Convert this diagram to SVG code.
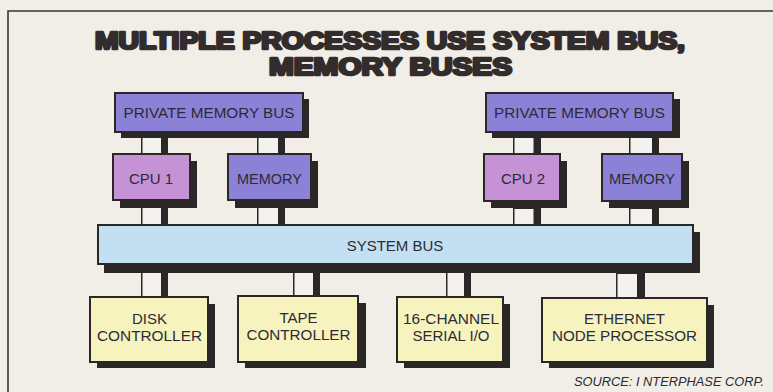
<svg xmlns="http://www.w3.org/2000/svg" width="773" height="392" viewBox="0 0 773 392">
<style>
.title{font-family:"Liberation Sans",Arial,sans-serif;font-weight:bold;font-size:23px;fill:#332c2d;stroke:#332c2d;stroke-width:2.6;stroke-linejoin:round}
.lbl{font-family:"Liberation Sans",Arial,sans-serif;font-size:15px;fill:#2c2a36;text-anchor:middle}
.src{font-family:"Liberation Sans",Arial,sans-serif;font-size:13px;font-style:italic;fill:#2c2a2a}
.shadow{fill:#2c2727}
.box{stroke:#2c2727;stroke-width:2}
.purple{fill:#8b82d8}
.pink{fill:#c692d6}
.blue{fill:#c2e0f1}
.yellow{fill:#f7f3bf}
.cdark{fill:#2c2727}
.cwhite{fill:#f4f2ee}
</style>
<rect x="0" y="0" width="773" height="392" fill="#f1eee8"/>
<path d="M8 392 V11 H773" fill="none" stroke="#3a3535" stroke-width="1.6"/>
<g id="title">
<text class="title" x="95" y="48.5" textLength="590" lengthAdjust="spacingAndGlyphs">MULTIPLE PROCESSES USE SYSTEM BUS,</text>
<text class="title" x="269" y="74.5" textLength="243" lengthAdjust="spacingAndGlyphs">MEMORY BUSES</text>
</g>
<g id="connectors">
<rect class="cdark" x="141" y="130" width="27" height="26"/><rect class="cwhite" x="142.5" y="138" width="18.5" height="16"/>
<rect class="cdark" x="257" y="130" width="28" height="26"/><rect class="cwhite" x="258.5" y="138" width="19.5" height="16"/>
<rect class="cdark" x="513" y="130" width="28" height="26"/><rect class="cwhite" x="514.5" y="138" width="19" height="16"/>
<rect class="cdark" x="629" y="130" width="30" height="26"/><rect class="cwhite" x="630.5" y="138" width="21.5" height="16"/>
<rect class="cdark" x="141" y="198" width="27" height="29"/><rect class="cwhite" x="142.5" y="208" width="18.5" height="17"/>
<rect class="cdark" x="257" y="198" width="28" height="29"/><rect class="cwhite" x="258.5" y="208" width="19.5" height="17"/>
<rect class="cdark" x="513" y="198" width="28" height="29"/><rect class="cwhite" x="514.5" y="209" width="19" height="16"/>
<rect class="cdark" x="629" y="198" width="30" height="29"/><rect class="cwhite" x="630.5" y="209" width="21.5" height="16"/>
<rect class="cdark" x="141" y="262" width="27" height="37"/><rect class="cwhite" x="142.5" y="273" width="18.5" height="23"/>
<rect class="cdark" x="293" y="262" width="27" height="36"/><rect class="cwhite" x="294.5" y="272" width="18.5" height="23"/>
<rect class="cdark" x="446" y="262" width="25" height="37"/><rect class="cwhite" x="447.5" y="272" width="16.5" height="24"/>
<rect class="cdark" x="616" y="262" width="29" height="38"/><rect class="cwhite" x="617.5" y="274" width="19.5" height="23"/>
</g>
<g id="pmb1"><rect class="shadow" x="121" y="99" width="188" height="39"/><rect class="box purple" x="115" y="93" width="188" height="39"/><text class="lbl" x="209" y="118" textLength="171" lengthAdjust="spacingAndGlyphs">PRIVATE MEMORY BUS</text></g>
<g id="pmb2"><rect class="shadow" x="492" y="99" width="188" height="39"/><rect class="box purple" x="486" y="93" width="187" height="39"/><text class="lbl" x="579.5" y="118" textLength="171" lengthAdjust="spacingAndGlyphs">PRIVATE MEMORY BUS</text></g>
<g id="cpu1"><rect class="shadow" x="120" y="161" width="77" height="47"/><rect class="box pink" x="113" y="154" width="77" height="46"/><text class="lbl" x="151" y="184">CPU 1</text></g>
<g id="mem1"><rect class="shadow" x="235" y="161" width="83" height="47"/><rect class="box purple" x="228" y="154" width="83" height="46"/><text class="lbl" x="269.5" y="184" textLength="65" lengthAdjust="spacingAndGlyphs">MEMORY</text></g>
<g id="cpu2"><rect class="shadow" x="491" y="161" width="76" height="47"/><rect class="box pink" x="484" y="154" width="76" height="47"/><text class="lbl" x="523" y="184">CPU 2</text></g>
<g id="mem2"><rect class="shadow" x="609" y="161" width="80" height="47"/><rect class="box purple" x="602" y="154" width="80" height="47"/><text class="lbl" x="642" y="184" textLength="66" lengthAdjust="spacingAndGlyphs">MEMORY</text></g>
<g id="sysbus"><rect class="shadow" x="104" y="232" width="596" height="41"/><rect class="box blue" x="98" y="225" width="595" height="39"/><text class="lbl" x="395" y="251">SYSTEM BUS</text></g>
<g id="disk"><rect class="shadow" x="97" y="304" width="118" height="64"/><rect class="box yellow" x="90" y="297" width="118" height="65"/><text class="lbl" x="149.5" y="324">DISK</text><text class="lbl" x="149.5" y="341" textLength="105" lengthAdjust="spacingAndGlyphs">CONTROLLER</text></g>
<g id="tape"><rect class="shadow" x="245" y="303" width="121" height="65"/><rect class="box yellow" x="238" y="296" width="120" height="66"/><text class="lbl" x="298.5" y="323">TAPE</text><text class="lbl" x="298.5" y="340" textLength="104" lengthAdjust="spacingAndGlyphs">CONTROLLER</text></g>
<g id="serial"><rect class="shadow" x="404" y="304" width="106" height="64"/><rect class="box yellow" x="397" y="297" width="106" height="65"/><text class="lbl" x="451" y="324" textLength="96" lengthAdjust="spacingAndGlyphs">16-CHANNEL</text><text class="lbl" x="451" y="341">SERIAL I/O</text></g>
<g id="ethernet"><rect class="shadow" x="549" y="305" width="165" height="63"/><rect class="box yellow" x="542" y="298" width="165" height="64"/><text class="lbl" x="624.5" y="324">ETHERNET</text><text class="lbl" x="624.5" y="341" textLength="145" lengthAdjust="spacingAndGlyphs">NODE PROCESSOR</text></g>
<text class="src" x="574" y="386" textLength="190" lengthAdjust="spacingAndGlyphs">SOURCE: I NTERPHASE CORP.</text>
</svg>
